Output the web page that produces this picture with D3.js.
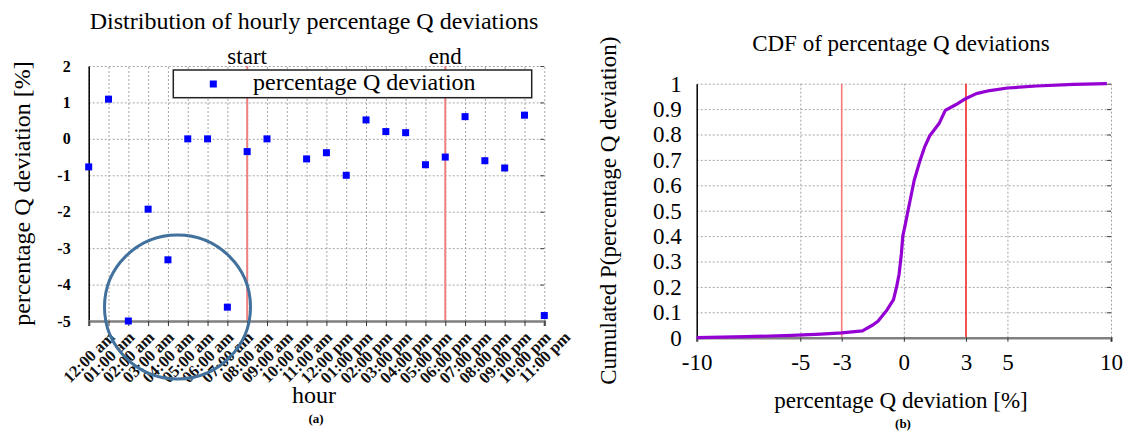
<!DOCTYPE html>
<html>
<head>
<meta charset="utf-8">
<script src="https://cdn.jsdelivr.net/npm/d3@7"></script>
<style>
body { margin: 0; background: #fff; }
svg { display: block; }
svg text { font-family: "Liberation Serif", "Times New Roman", serif; }
.grid line { stroke: #a6a6a6; stroke-dasharray: 2,2; }
.grid .domain { display: none; }
</style>
</head>
<body>
<svg id="chart" width="1127" height="432"></svg>
<script>
// hourly deviations (left panel)
const hours = ["12:00 am", "01:00 am", "02:00 am", "03:00 am", "04:00 am", "05:00 am",
	"06:00 am", "07:00 am", "08:00 am", "09:00 am", "10:00 am", "11:00 am",
	"12:00 pm", "01:00 pm", "02:00 pm", "03:00 pm", "04:00 pm", "05:00 pm",
	"06:00 pm", "07:00 pm", "08:00 pm", "09:00 pm", "10:00 pm", "11:00 pm"];
const qDeviation = [-0.77, 1.09, -5.0, -1.93, -3.32, 0, 0, -4.62, -0.35, 0, null, -0.55,
	-0.38, -1.0, 0.52, 0.2, 0.17, -0.71, -0.5, 0.61, -0.6, -0.8, 0.65, -4.85];
const devTicks = [2, 1, 0, -1, -2, -3, -4, -5];
const windowLabels = ["start", "end"];
const windowHours = ["08:00 am", "06:00 pm"];

// CDF (right panel)
const cdfDev = [-10, -7.6, -5.4, -4.0, -3.0, -2.0, -1.5, -1.25, -0.85, -0.5, -0.35, -0.23,
	-0.12, -0.05, 0.08, 0.2, 0.35, 0.5, 0.79, 1.0, 1.25, 1.7, 2.0, 2.5, 3.0, 3.5, 4.15,
	5.0, 6.4, 8.2, 9.8];
const cdfProb = [0, 0.004, 0.009, 0.014, 0.019, 0.027, 0.05, 0.065, 0.105, 0.15, 0.2, 0.25,
	0.33, 0.4, 0.45, 0.5, 0.56, 0.62, 0.70, 0.75, 0.795, 0.843, 0.895, 0.917, 0.942, 0.961,
	0.973, 0.983, 0.991, 0.997, 1.0];
const cdfXTicks = [-10, -5, -3, 0, 3, 5, 10];
const cdfXGrid = [-5, 0, 5, 10];
const cdfYTicks = [0, 0.1, 0.2, 0.3, 0.4, 0.5, 0.6, 0.7, 0.8, 0.9, 1];
const limits = [-3, 3];

const svg = d3.select("#chart");

// axis groups come with their own font, size the labels here
const labels = (g, size, weight) => {
	g.selectAll("text").attr("font-size", size).attr("font-weight", weight || null).attr("fill", "#000");
};

// ---------- left panel ----------
const L = { left: 88.7, right: 544.3, top: 66, bottom: 321 };
const x = d3.scalePoint().domain(hours).range([L.left, L.right]);
const y = d3.scaleLinear().domain([-5, 2]).range([L.bottom, L.top]);

svg.append("g").attr("class", "grid")
	.attr("transform", `translate(0,${L.bottom})`)
	.call(d3.axisBottom(x).tickSize(-(L.bottom - L.top)).tickFormat(""));
svg.append("g").attr("class", "grid")
	.attr("transform", `translate(${L.left},0)`)
	.call(d3.axisLeft(y).tickValues(devTicks).tickSize(-(L.right - L.left)).tickFormat(""));

// small ticks on the right edge
svg.append("g")
	.attr("transform", `translate(${L.right},0)`)
	.call(d3.axisRight(y).tickValues(devTicks).tickSize(-4).tickFormat(""))
	.call(g => g.select(".domain").remove())
	.call(g => g.selectAll("line").attr("stroke", "#444"));

// start / end lines
svg.append("g").selectAll("line")
	.data(windowHours)
	.join("line")
	.attr("x1", d => x(d)).attr("x2", d => x(d))
	.attr("y1", L.top).attr("y2", L.bottom)
	.attr("stroke", "#f08080").attr("stroke-width", 2);
svg.append("g").selectAll("text")
	.data(windowHours)
	.join("text")
	.attr("x", d => x(d)).attr("y", 64)
	.attr("text-anchor", "middle")
	.attr("font-size", 23)
	.text((d, i) => windowLabels[i]);

// y axis
svg.append("g")
	.attr("transform", `translate(${L.left},0)`)
	.call(d3.axisLeft(y).tickValues(devTicks).tickSize(0).tickPadding(18).tickFormat(d => String(d)))
	.call(g => g.select(".domain").attr("stroke", "#000").attr("stroke-width", 1.5))
	.call(g => labels(g, 16, "bold"));

// x axis
svg.append("g")
	.attr("transform", `translate(0,${L.bottom})`)
	.call(d3.axisBottom(x).tickSize(5).tickFormat(""))
	.call(g => g.select(".domain").attr("stroke", "#808080").attr("stroke-width", 2.5))
	.call(g => g.selectAll("line").attr("stroke", "#333"));

const hourFont = 16.5;
const hourLabels = svg.append("g").selectAll("text")
	.data(hours)
	.join("text")
	.attr("font-size", hourFont)
	.attr("font-weight", "bold")
	.attr("text-anchor", "end")
	.attr("fill", "#111")
	.text(d => d);
hourLabels.attr("transform", function(d) {
	const len = this.getComputedTextLength();
	const w = (len + hourFont * 0.7) * Math.SQRT1_2;
	const bx = x(d) + w / 2;
	const by = L.bottom + 9 + hourFont * 0.7 * Math.SQRT1_2;
	return `translate(${bx},${by}) rotate(-45)`;
});

// legend
svg.append("rect")
	.attr("x", 173.3).attr("y", 70).attr("width", 358.4).attr("height", 27.7)
	.attr("fill", "#fff").attr("stroke", "#222").attr("stroke-width", 1.5);
svg.append("rect")
	.attr("x", 213.3 - 3.5).attr("y", 84 - 3.5).attr("width", 7).attr("height", 7)
	.attr("fill", "#0000ff");
svg.append("text")
	.attr("x", 253).attr("y", 89.5)
	.attr("font-size", 24)
	.text("percentage Q deviation");

// points
svg.append("g").selectAll("rect")
	.data(hours.map((h, i) => ({ h, v: qDeviation[i] })).filter(d => d.v !== null))
	.join("rect")
	.attr("x", d => x(d.h) - 3.5)
	.attr("y", d => y(d.v) - 3.5)
	.attr("width", 7).attr("height", 7)
	.attr("fill", "#0000ff");

// annotation circle
svg.append("ellipse")
	.attr("cx", 177.5).attr("cy", 307).attr("rx", 73).attr("ry", 72)
	.attr("fill", "none").attr("stroke", "#41719c").attr("stroke-width", 3);

svg.append("text").attr("x", 314).attr("y", 28.5).attr("text-anchor", "middle")
	.attr("font-size", 24).text("Distribution of hourly percentage Q deviations");
svg.append("text").attr("transform", `translate(30,${(L.top + L.bottom) / 2}) rotate(-90)`)
	.attr("text-anchor", "middle").attr("font-size", 24).text("percentage Q deviation [%]");
svg.append("text").attr("x", 314).attr("y", 403).attr("text-anchor", "middle")
	.attr("font-size", 24).text("hour");
svg.append("text").attr("x", 316).attr("y", 423).attr("text-anchor", "middle")
	.attr("font-size", 13).attr("font-weight", "bold").text("(a)");

// ---------- right panel ----------
const R = { left: 696.7, right: 1111, top: 83.7, bottom: 337.7 };
const xc = d3.scaleLinear().domain([-10, 10]).range([R.left, R.right]);
const yc = d3.scaleLinear().domain([0, 1]).range([R.bottom, R.top]);

svg.append("g").attr("class", "grid")
	.attr("transform", `translate(0,${R.bottom})`)
	.call(d3.axisBottom(xc).tickValues(cdfXGrid).tickSize(-(R.bottom - R.top)).tickFormat(""));
svg.append("g").attr("class", "grid")
	.attr("transform", `translate(${R.left},0)`)
	.call(d3.axisLeft(yc).tickValues(cdfYTicks).tickSize(-(R.right - R.left)).tickFormat(""));

svg.append("g")
	.attr("transform", `translate(${R.right},0)`)
	.call(d3.axisRight(yc).tickValues(cdfYTicks).tickSize(-4).tickFormat(""))
	.call(g => g.select(".domain").remove())
	.call(g => g.selectAll("line").attr("stroke", "#444"));

svg.append("g").selectAll("line")
	.data(limits)
	.join("line")
	.attr("x1", d => xc(d)).attr("x2", d => xc(d))
	.attr("y1", R.top).attr("y2", R.bottom)
	.attr("stroke", (d, i) => i === 0 ? "#f47a7a" : "#f02828")
	.attr("stroke-width", 1.6);

svg.append("g")
	.attr("transform", `translate(${R.left},0)`)
	.call(d3.axisLeft(yc).tickValues(cdfYTicks).tickSize(0).tickPadding(15).tickFormat(d => String(d)))
	.call(g => g.select(".domain").attr("stroke", "#000").attr("stroke-width", 1.5))
	.call(g => labels(g, 23));

svg.append("g")
	.attr("transform", `translate(0,${R.bottom})`)
	.call(d3.axisBottom(xc).tickValues(cdfXTicks).tickSize(4).tickPadding(12).tickFormat(d => String(d)))
	.call(g => g.select(".domain").attr("stroke", "#808080").attr("stroke-width", 2.5))
	.call(g => g.selectAll("line").attr("stroke", "#333"))
	.call(g => labels(g, 23));

svg.append("path")
	.datum(cdfDev.map((v, i) => [v, cdfProb[i]]))
	.attr("fill", "none")
	.attr("stroke", "#9400d3")
	.attr("stroke-width", 3.2)
	.attr("stroke-linejoin", "round")
	.attr("d", d3.line().x(d => xc(d[0])).y(d => yc(d[1])));

svg.append("text").attr("x", 901).attr("y", 51).attr("text-anchor", "middle")
	.attr("font-size", 23).text("CDF of percentage Q deviations");
svg.append("text").attr("transform", `translate(616,${(R.top + R.bottom) / 2}) rotate(-90)`)
	.attr("text-anchor", "middle").attr("font-size", 23).text("Cumulated P(percentage Q deviation)");
svg.append("text").attr("x", 901).attr("y", 408).attr("text-anchor", "middle")
	.attr("font-size", 23).text("percentage Q deviation [%]");
svg.append("text").attr("x", 903).attr("y", 428).attr("text-anchor", "middle")
	.attr("font-size", 13).attr("font-weight", "bold").text("(b)");
</script>
</body>
</html>
